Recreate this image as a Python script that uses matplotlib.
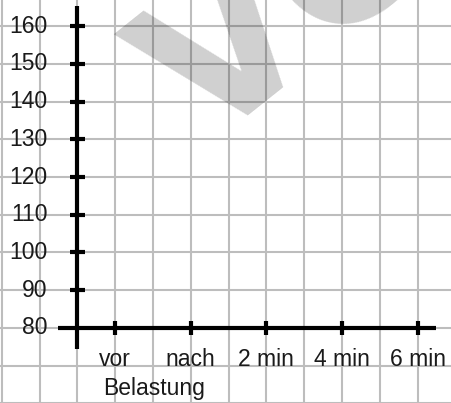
import matplotlib
matplotlib.use("Agg")
import matplotlib.pyplot as plt
import numpy as np

# chart content
y_ticks = [90, 100, 110, 120, 130, 140, 150, 160]
y_labels = ["80", "90", "100", "110", "120", "130", "140", "150", "160"]
y_label_values = [80, 90, 100, 110, 120, 130, 140, 150, 160]
x_labels = ["vor", "nach", "2 min", "4 min", "6 min"]
x_positions = [1, 3, 5, 7, 9]
x_title = "Belastung"
watermark = "VORSCHAU"

plt.rcParams['font.family'] = ['Liberation Sans', 'DejaVu Sans']

fig = plt.figure(figsize=(4.51, 4.03), dpi=100)
ax = fig.add_axes([0, 0, 1, 1])
ax.set_xlim(-2.045, 9.886)
ax.set_ylim(60.13, 166.89)
ax.axis("off")

# graph paper grid (one square = 1 x-unit = 10 y-units)
grid_col = "#bdbdbd"
for gx in range(-2, 10):
    ax.axvline(gx, color=grid_col, lw=1.5, zorder=1)
for gy in range(60, 171, 10):
    ax.axhline(gy, color=grid_col, lw=1.5, zorder=1)

# axes
ax.plot([0, 0], [74.4, 165.3], color="black", lw=3, zorder=3, solid_capstyle="butt")
ax.plot([-0.52, 9.5], [80, 80], color="black", lw=3, zorder=3, solid_capstyle="butt")
for yt in y_ticks:
    ax.plot([-0.2, 0.2], [yt, yt], color="black", lw=3, zorder=3, solid_capstyle="butt")
for xp in x_positions:
    ax.plot([xp, xp], [78.15, 81.85], color="black", lw=3, zorder=3, solid_capstyle="butt")

txt_col = "#1a1a1a"
for v, lab in zip(y_label_values, y_labels):
    ax.text(-0.78, v, lab, ha="right", va="center", fontsize=16.5, color=txt_col, zorder=4)
for xp, lab in zip(x_positions, x_labels):
    ax.text(xp, 69.93, lab, ha="center", va="baseline", fontsize=16.5, color=txt_col, zorder=4)
ax.text(2.03, 62.25, x_title, ha="center", va="baseline", fontsize=16.5, color=txt_col, zorder=4)

# watermark
fig.text(0.452, 0.628, watermark, rotation=38.5, rotation_mode="anchor",
         ha="left", va="baseline", fontsize=145, fontweight="bold",
         family="DejaVu Sans", color="black", alpha=0.19, zorder=5)

fig.savefig("out.png", dpi=100)
